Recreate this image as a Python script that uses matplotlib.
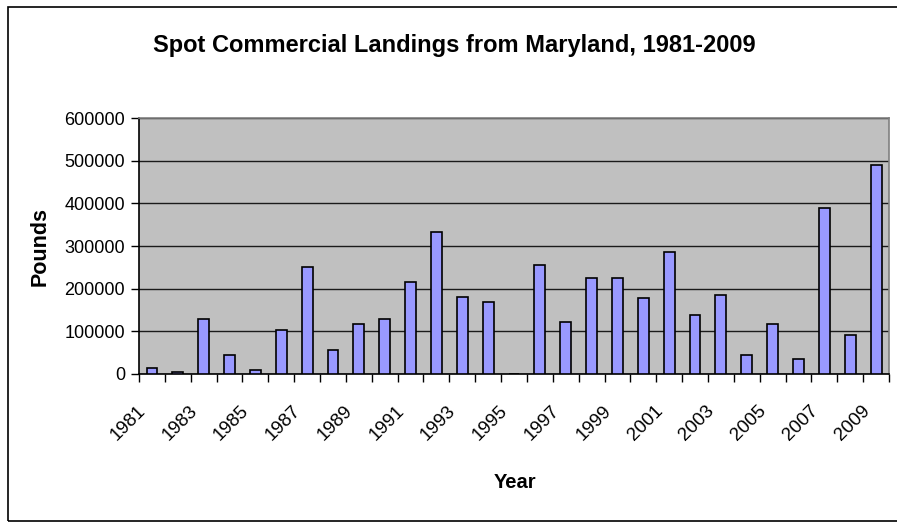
import matplotlib
matplotlib.use("Agg")
import matplotlib.pyplot as plt
from matplotlib.patches import Rectangle
from matplotlib.transforms import ScaledTranslation
import numpy as np

plt.rcParams['font.family'] = ['Liberation Sans', 'DejaVu Sans']

years = list(range(1981, 2010))
pounds = [13000, 5000, 130000, 44000, 9000, 104000, 251000, 57000, 117000, 130000,
          216000, 332000, 181000, 169000, 0, 256000, 121000, 224000, 224000, 177000,
          285000, 138000, 186000, 44000, 117000, 35000, 389000, 91000, 491000]
yticks = [0, 100000, 200000, 300000, 400000, 500000, 600000]
title = "Spot Commercial Landings from Maryland, 1981-2009"

fig = plt.figure(figsize=(8.97, 5.22), dpi=100)
ax = fig.add_axes([139/897, 1-374/522, (889-139)/897, (374-118)/522])

x = np.arange(len(years))
ax.bar(x, pounds, width=0.42, color='#9999FF', edgecolor='black', linewidth=1.2, zorder=3)

ax.set_facecolor('#C0C0C0')
ax.set_xlim(-0.5, len(years)-0.5)
ax.set_ylim(0, 600000)
ax.set_yticks(yticks)
ax.set_yticklabels([str(v) for v in yticks], fontsize=13)
ax.yaxis.grid(True, color='#1a1a1a', linewidth=1.0, zorder=1)
ax.set_axisbelow(True)

ax.set_xticks(x[::2])
labels = ax.set_xticklabels([str(y) for y in years[::2]], rotation=45, ha='right', va='center',
                            rotation_mode='anchor', fontsize=13.5)
ax.tick_params(axis='x', which='major', length=0, pad=0)
off = ScaledTranslation(-9/100, -34/100, fig.dpi_scale_trans)
for lb in labels:
    lb.set_transform(lb.get_transform() + off)
ax.set_xticks(np.arange(-0.5, len(years), 1.0), minor=True)
ax.tick_params(axis='x', which='minor', length=6, width=1, color='black')
ax.tick_params(axis='y', length=6, width=1, color='black', pad=4)

for s in ['top', 'right']:
    ax.spines[s].set_color('#808080')
    ax.spines[s].set_linewidth(1.2)
for s in ['left', 'bottom']:
    ax.spines[s].set_color('black')
    ax.spines[s].set_linewidth(1.2)

ax.set_ylabel('Pounds', fontsize=15.5, fontweight='bold')
ax.yaxis.set_label_coords(-0.132, 0.5)
ax.set_xlabel('Year', fontsize=14.5, fontweight='bold')
ax.xaxis.set_label_coords((515-139)/750, (374-482)/256)
ax.xaxis.label.set_va('center')
ax.yaxis.label.set_va('center')

fig.text(454/897, 1-45/522, title, ha='center', va='center', fontsize=17, fontweight='bold')

fig.patches.append(Rectangle((7.5/897, 1.5/522), 1.0, (520-6)/522, transform=fig.transFigure,
                             fill=False, edgecolor='black', linewidth=1.2))

fig.savefig('out.png', dpi=100)
